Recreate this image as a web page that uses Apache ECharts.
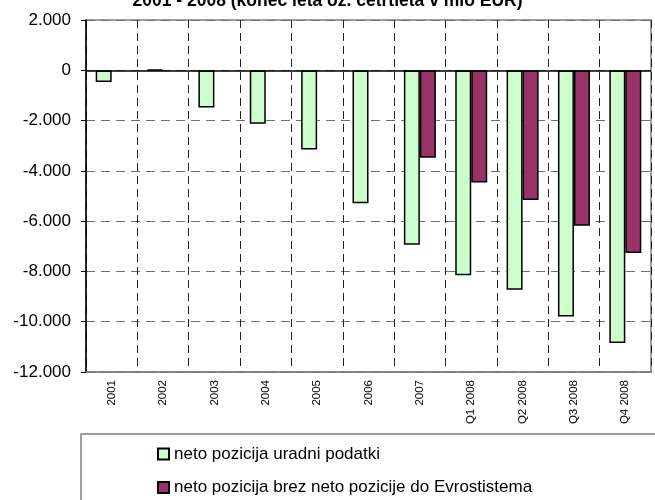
<!DOCTYPE html>
<html>
<head>
<meta charset="utf-8">
<script src="https://cdn.jsdelivr.net/npm/echarts@6/dist/echarts.min.js"></script>
<style>
html,body{margin:0;padding:0;background:#fff;}
#chart{width:655px;height:500px;}
</style>
</head>
<body>
<div id="chart"></div>
<script>
var categories = ['2001','2002','2003','2004','2005','2006','2007','Q1 2008','Q2 2008','Q3 2008','Q4 2008'];
var officialNet = [-465, 30, -1480, -2130, -3150, -5290, -6940, -8150, -8730, -9790, -10850];
var netExclEuro = [null, null, null, null, null, null, -3480, -4460, -5160, -6180, -7270];
var seriesNames = ['neto pozicija uradni podatki', 'neto pozicija brez neto pozicije do Evrostistema'];
var titleText = '2001 - 2008 (konec leta oz. četrtleta v mio EUR)';

function fmt(v) {
  var neg = v < 0;
  var s = String(Math.abs(v));
  s = s.replace(/\B(?=(\d{3})+(?!\d))/g, '.');
  return (neg ? '-' : '') + s;
}

var FONT = '"Liberation Sans", Arial, sans-serif';
function legendAt(name, top) {
  return {
    orient: 'vertical',
    left: 157,
    top: top,
    padding: 0,
    itemWidth: 11,
    itemHeight: 11,
    icon: 'rect',
    textStyle: {fontFamily: FONT, fontSize: 17, color: '#000'},
    data: [name]
  };
}
var chart = echarts.init(document.getElementById('chart'));
chart.setOption({
  animation: false,
  title: {
    text: titleText,
    left: 'center',
    top: -7.5,
    padding: 0,
    textStyle: {fontFamily: FONT, fontSize: 17.5, fontWeight: 'bold', color: '#000'}
  },
  grid: {
    left: 86, right: 4, top: 20, bottom: 128,
    show: true, borderColor: '#808080', borderWidth: 1.5, containLabel: false
  },
  legend: [legendAt(seriesNames[0], 445.5), legendAt(seriesNames[1], 479)],
  graphic: [{
    type: 'rect',
    shape: {x: 81, y: 434, width: 700, height: 200},
    style: {fill: 'none', stroke: '#808080', lineWidth: 1.5},
    silent: true
  }],
  xAxis: {
    type: 'category',
    data: categories,
    axisLine: {onZero: false, lineStyle: {color: '#808080', width: 1.5}},
    axisTick: {show: false},
    axisLabel: {rotate: 90, margin: 8, fontFamily: FONT, fontSize: 11.5, color: '#000', interval: 0},
    splitLine: {show: true, lineStyle: {color: '#222', type: [8, 5], width: 1}}
  },
  yAxis: {
    type: 'value',
    min: -12000, max: 2000, interval: 2000,
    axisLine: {show: true, lineStyle: {color: '#000', width: 1.5}},
    axisTick: {show: true, length: 5, lineStyle: {color: '#000'}},
    axisLabel: {fontFamily: FONT, fontSize: 17, color: '#000', margin: 15, formatter: fmt},
    splitLine: {show: true, lineStyle: {color: '#707070', type: [9, 6], width: 1.2}}
  },
  series: [{
    name: seriesNames[0],
    type: 'bar',
    data: officialNet,
    barWidth: 16,
    barGap: '0%',
    itemStyle: {color: '#CCFFCC', borderColor: '#000', borderWidth: 1.5},
    markLine: {
      silent: true, symbol: 'none', label: {show: false},
      lineStyle: {color: '#000', type: 'solid', width: 1.5},
      data: [{yAxis: 0}]
    }
  }, {
    name: seriesNames[1],
    type: 'bar',
    data: netExclEuro,
    barWidth: 16,
    barGap: '0%',
    itemStyle: {color: '#993366', borderColor: '#000', borderWidth: 1.5}
  }]
});
</script>
</body>
</html>
